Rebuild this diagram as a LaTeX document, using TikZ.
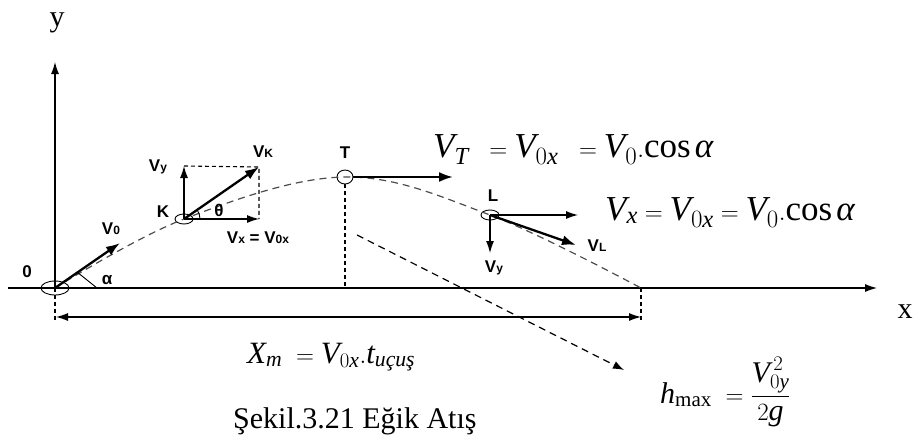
\documentclass[tikz,border=0pt]{standalone}
\usepackage{amsmath}
\usepackage{fontspec}
\setmainfont{Liberation Serif}
\newfontfamily\lblfont{Liberation Sans}
\usetikzlibrary{arrows.meta,shapes.geometric,positioning}

\newcommand{\ti}[1]{\textit{#1}}
\newcommand{\vsub}[1]{V{\fontsize{12}{12}\selectfont #1}}

\tikzset{
  axis/.style={line width=1.1pt,->},
  vec/.style={line width=2.3pt,-{Latex[length=14pt,width=10pt]}},
  comp/.style={line width=1.1pt,->},
  dim/.style={line width=1.1pt,<->},
  traj/.style={black!70,line width=1.2pt,dash pattern=on 7pt off 5pt},
  guide/.style={line width=1.1pt,dash pattern=on 4pt off 3pt},
  pt/.style={draw,ellipse,line width=0.9pt,minimum width=18pt,minimum height=10pt,inner sep=0pt},
  lbl/.style={font=\lblfont\bfseries\fontsize{17}{18}\selectfont,inner sep=0pt},
  eq/.style={font=\fontsize{35}{38}\selectfont,inner sep=0pt,anchor=base west},
  txt/.style={font=\fontsize{30}{34}\selectfont,inner sep=0pt},
}

\begin{document}
\begin{tikzpicture}[x=1pt,y=-1pt,>={Latex[length=12pt,width=8pt]}]
\useasboundingbox (0,0) rectangle (913,439);
% points on the path
\node[pt,minimum width=28pt,minimum height=14pt] (O) at (55,288) {};
\node[pt] (K) at (184,219) {};
\node[pt,minimum width=16pt,minimum height=14pt] (T) at (345,177) {};
\node[pt] (L) at (490,215) {};
\coordinate (E) at (641,288);
% axes
\coordinate (xs) at (8,288);
\coordinate (xe) at (877,288);
\coordinate (ye) at (55,62);
\draw[axis] (xs) -- (xe);
\draw[axis] (O.center) -- (ye);
\node[txt] (ylab) at (57,23) {y};
\node[txt] (xlab) at (905,312) {x};
% trajectory
\draw[traj] plot[smooth,tension=0.6] coordinates {(O.center) (K.center) (T.center) (L.center) (E)};
\draw[guide] (T.south) -- (T.center |- xe);
\coordinate (hs) at (357,235);
\coordinate (he) at (624,370);
\draw[traj,black,-{Latex[length=11pt,width=8pt]}] (hs) -- (he);
% range
\foreach \p in {O.center,E} \draw[guide] (\p) -- ++(0,32);
\coordinate (d1) at (56,317);
\coordinate (d2) at (641,317);
\draw[dim] (d1) -- (d2);
% start
\coordinate (v0) at (120,243);
\draw[vec] (O.center) -- (v0);
\draw[line width=0.9pt] (77,272) -- (97,288);
\node[lbl] (olab) at (27,272) {0};
\node[lbl] (alab) at (107,280) {α};
\node[lbl] (v0lab) at (111,229) {\vsub{0}};
% point K
\coordinate (kvy) at (184,166);
\coordinate (kvk) at (259,167);
\coordinate (kvx) at (259,219);
\draw[guide] (kvy) -- (kvk) -- (kvx);
\draw[comp] (K.center) -- (kvy);
\draw[comp] (K.center) -- (kvx);
\draw[vec] (K.center) -- (kvk);
\draw[line width=0.9pt] (K.center) ++(16,0) arc[start angle=0,end angle=-35,radius=16];
\node[lbl] (klab) at (163,212) {K};
\node[lbl] (kvylab) at (158,167) {\vsub{y}};
\node[lbl] (kvklab) at (263,152) {\vsub{K}};
\node[lbl] (thlab) at (219,210) {θ};
\node[lbl] (kvxlab) at (258,238) {\vsub{x} = \vsub{0x}};
% point T
\coordinate (tv) at (453,177);
\draw[vec] (T.east) -- (tv);
\node[lbl] (tlab) at (345,153) {T};
% point L
\coordinate (lvx) at (578,215);
\coordinate (lvy) at (490,253);
\coordinate (lvl) at (576,245);
\draw[comp] (L.center) -- (lvx);
\draw[comp] (L.center) -- (lvy);
\draw[vec] (L.center) -- (lvl);
\node[lbl] (llab) at (493,196) {L};
\node[lbl] (lvylab) at (494,268) {\vsub{y}};
\node[lbl] (lvllab) at (597,246) {\vsub{L}};
% formulas
\node[eq] (vt) at (433,157) {$\ti{V}_{\ti{T}}\;\; = \ti{V}_{0\ti{x}}\;\; = \ti{V}_{0}.\!\cos\ti{α}$};
\node[eq] (vx) at (605,220) {$\ti{V}_{\ti{x}} = \ti{V}_{0\ti{x}} = \ti{V}_{0}.\!\cos\ti{α}$};
\node[eq,font=\fontsize{31}{34}\selectfont] (xm) at (247,363) {$\ti{X}_{\ti{m}}\; = \ti{V}_{0\ti{x}}.\ti{t}_{\ti{uçuş}}$};
\node[eq,font=\fontsize{30}{34}\selectfont] (hm) at (660,403) {$\ti{h}_{\mathrm{max}}\; = \dfrac{\ti{V}_{0\ti{y}}^{\,2}}{\,2\ti{g}\,}$};
% caption
\node[txt,anchor=base west] (cap) at (233,428) {Şekil.3.21 Eğik Atış};
\end{tikzpicture}
\end{document}
